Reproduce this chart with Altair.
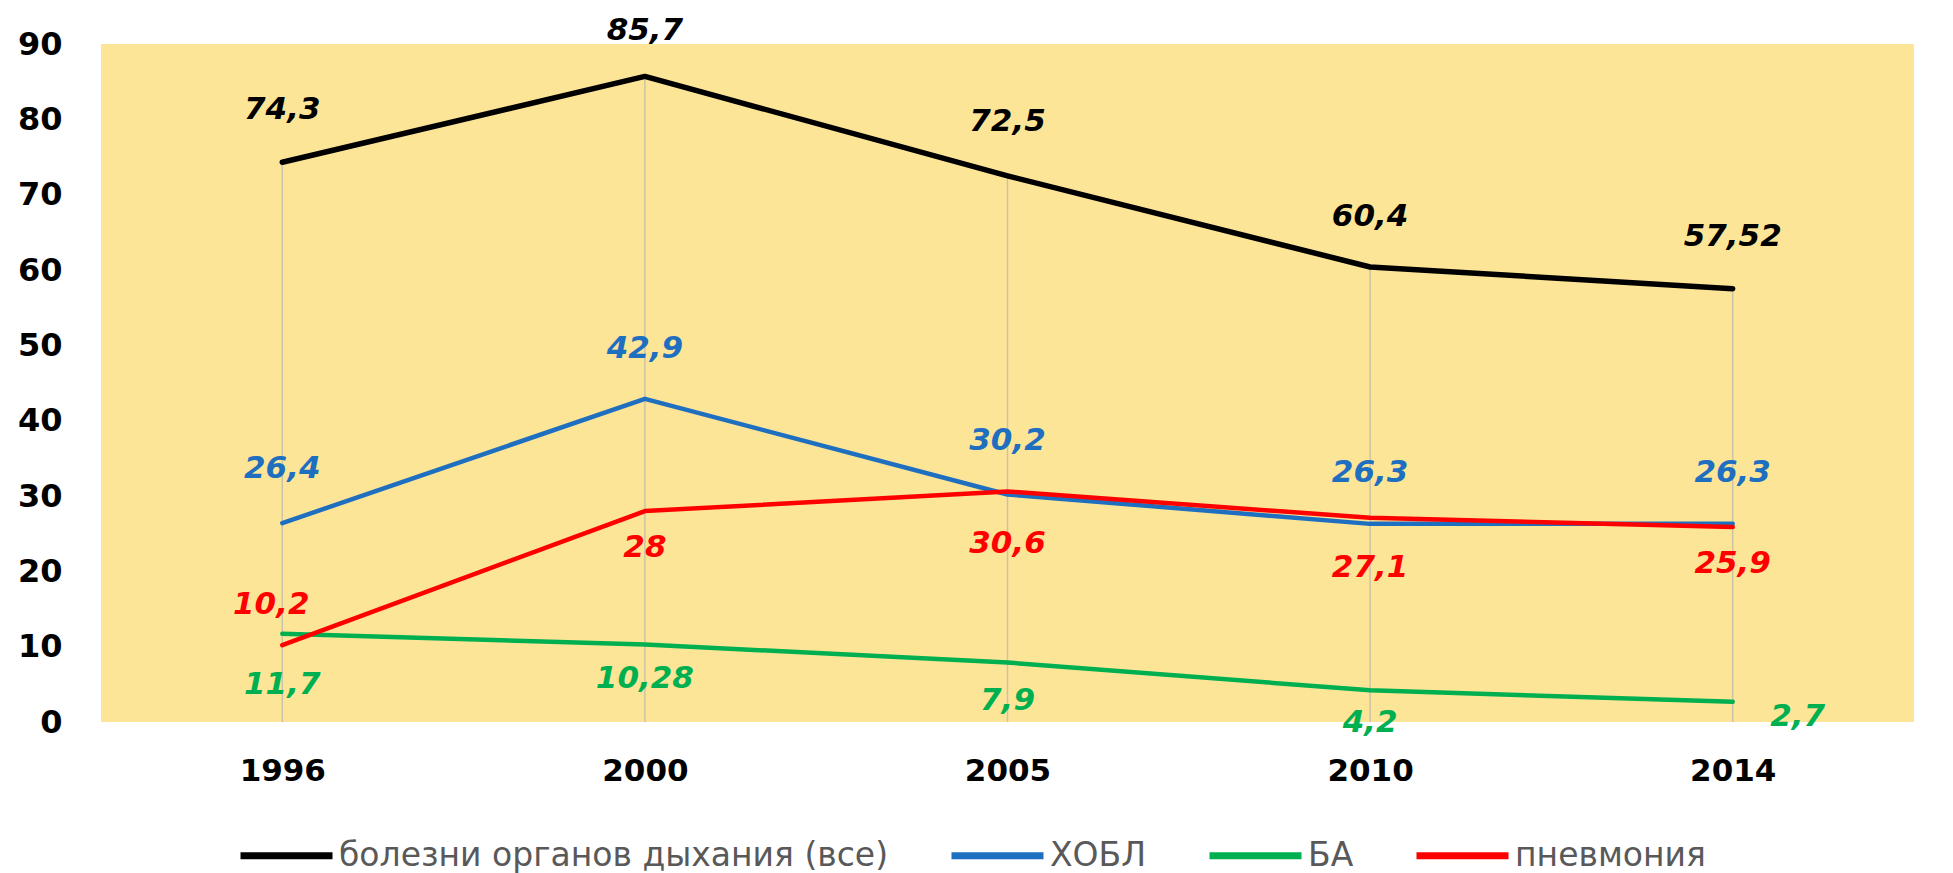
import altair as alt
import pandas as pd

years = ["1996", "2000", "2005", "2010", "2014"]
series_names = ["болезни органов дыхания (все)", "ХОБЛ", "БА", "пневмония"]
resp_all = [74.3, 85.7, 72.5, 60.4, 57.52]
copd = [26.4, 42.9, 30.2, 26.3, 26.3]
asthma = [11.7, 10.28, 7.9, 4.2, 2.7]
pneumonia = [10.2, 28, 30.6, 27.1, 25.9]

colors = ["#000000", "#1f6fc0", "#00b050", "#ff0000"]
line_widths = [5.5, 4.5, 4.5, 4.5]
# label offsets in pixels (style only)
label_dy = [[-52, -45, -54, -50, -52],
            [-54, -50, -53, -51, -51],
            [51, 34, 39, 33, 15],
            [-40, 37, 53, 50, 37]]
label_dx = [[0, 0, 0, 0, 0],
            [0, 0, 0, 0, 0],
            [0, 0, 0, 0, 65],
            [-11, 0, 0, 0, 0]]

all_series = [resp_all, copd, asthma, pneumonia]

rows = []
for name, vals in zip(series_names, all_series):
    for y, v in zip(years, vals):
        rows.append({"year": y, "value": v, "series": name,
                     "label": f"{v:g}".replace(".", ",")})
df = pd.DataFrame(rows)

drop_df = pd.DataFrame({
    "year": years,
    "lo": [0] * len(years),
    "hi": [max(s[i] for s in all_series) for i in range(len(years))],
})

FONT = "DejaVu Sans"
xscale = alt.Scale(type="point", padding=0.5, domain=years)
yscale = alt.Scale(domain=[0, 90], nice=False, zero=True)

x_enc = alt.X("year:N", scale=xscale, sort=years, title=None,
              axis=alt.Axis(domain=False, ticks=False, tickSize=0, grid=False,
                            labelFont=FONT, labelFontSize=31, labelFontWeight="bold",
                            labelColor="#000000", labelPadding=49,
                            labelBaseline="middle", labelAngle=0))
y_axis = alt.Axis(values=list(range(0, 91, 10)), domain=False, ticks=False,
                  tickSize=0, grid=False, labelFont=FONT, labelFontSize=32,
                  labelFontWeight="bold", labelColor="#000000", labelPadding=39)

color_enc = alt.Color(
    "series:N",
    scale=alt.Scale(domain=series_names, range=colors),
    legend=alt.Legend(title=None, orient="none", legendX=136, legendY=762,
                      direction="horizontal", columns=4, symbolType="stroke",
                      symbolSize=8464, symbolStrokeWidth=7,
                      labelFont=FONT, labelFontSize=33, labelColor="#595959",
                      labelLimit=900, columnPadding=48, labelOffset=3),
)

rule = alt.Chart(drop_df).mark_rule(color="#cbc3a6", strokeWidth=1.5).encode(
    x=x_enc,
    y=alt.Y("lo:Q", scale=yscale, axis=y_axis, title=None),
    y2="hi:Q",
)

layers = [rule]
for name, w in zip(series_names, line_widths):
    layers.append(
        alt.Chart(df).transform_filter(alt.datum.series == name)
        .mark_line(strokeWidth=w, strokeCap="round", strokeJoin="round")
        .encode(x=x_enc, y=alt.Y("value:Q", scale=yscale, axis=y_axis, title=None),
                color=color_enc)
    )

for i, name in enumerate(series_names):
    for j, yr in enumerate(years):
        layers.append(
            alt.Chart(df)
            .transform_filter((alt.datum.series == name) & (alt.datum.year == yr))
            .mark_text(font=FONT, fontSize=31, fontWeight="bold", fontStyle="italic",
                       color=colors[i], baseline="middle", align="center",
                       dy=label_dy[i][j], dx=label_dx[i][j])
            .encode(x=x_enc, y=alt.Y("value:Q", scale=yscale, axis=y_axis, title=None),
                    text="label:N")
        )

chart = alt.layer(*layers).properties(
    width=1813, height=678,
    autosize=alt.AutoSizeParams(type="none"),
    padding={"left": 93, "top": 36, "right": 24, "bottom": 157},
    background="#ffffff",
).configure_view(fill="#fde598", stroke=None)

chart.save("out.html", embed_options={"renderer": "svg", "actions": False})
